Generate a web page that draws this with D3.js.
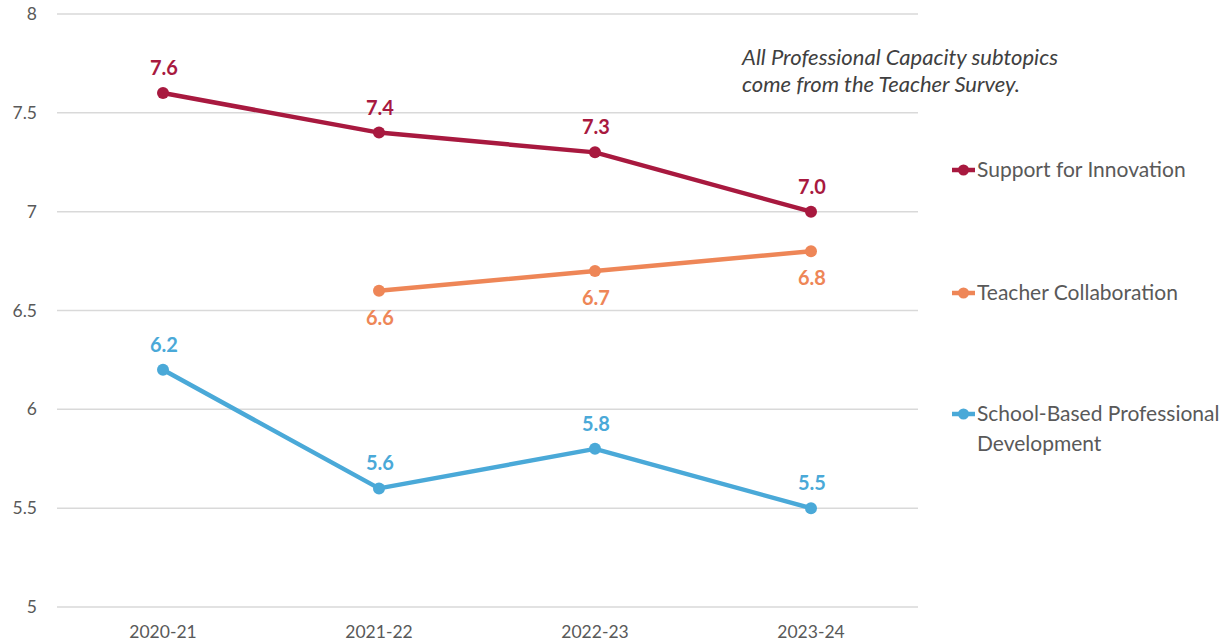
<!DOCTYPE html>
<html>
<head>
<meta charset="utf-8">
<script src="https://cdn.jsdelivr.net/npm/d3@7"></script>
<style>
  body { margin: 0; background: #fff; }
  svg text { font-family: Lato, "Open Sans", sans-serif; }
</style>
</head>
<body>
<div id="chart"></div>
<script>
// categories and series
const years = ["2020-21", "2021-22", "2022-23", "2023-24"];
const innovation = [7.6, 7.4, 7.3, 7.0];
const collaboration = [null, 6.6, 6.7, 6.8];
const schoolPD = [6.2, 5.6, 5.8, 5.5];
const yTicks = [5, 5.5, 6, 6.5, 7, 7.5, 8];

const series = [
  { name: ["Support for Innovation"], values: innovation, color: "#A8193F", labelPos: "above", legendY: 170 },
  { name: ["Teacher Collaboration"], values: collaboration, color: "#EE8657", labelPos: "below", legendY: 293 },
  { name: ["School-Based Professional", "Development"], values: schoolPD, color: "#4AA9D8", labelPos: "above", legendY: 414 }
];

const W = 1229, H = 644;
const svg = d3.select("#chart").append("svg")
    .attr("width", W)
    .attr("height", H);

const x = d3.scaleBand()
  .domain(years)
  .range([55, 919]);

const y = d3.scaleLinear()
  .domain([5, 8])
  .range([607, 14]);

// gridlines
svg.append("g")
  .selectAll("line")
  .data(yTicks)
  .join("line")
    .attr("x1", 57)
    .attr("x2", 918)
    .attr("y1", d => y(d))
    .attr("y2", d => y(d))
    .attr("stroke", "#d9d9d9")
    .attr("stroke-width", 1.5);

// y tick labels
svg.append("g")
  .selectAll("text")
  .data(yTicks)
  .join("text")
    .attr("x", 37)
    .attr("y", d => y(d))
    .attr("dy", "0.35em")
    .attr("text-anchor", "end")
    .attr("fill", "#595959")
    .attr("font-size", 17.5)
    .text(d => d);

// x labels
svg.append("g")
  .selectAll("text")
  .data(years)
  .join("text")
    .attr("x", d => x(d) + x.bandwidth() / 2)
    .attr("y", 638)
    .attr("text-anchor", "middle")
    .attr("fill", "#595959")
    .attr("font-size", 17.5)
    .text(d => d);

const cx = i => x(years[i]) + x.bandwidth() / 2;
const line = d3.line()
  .defined(d => d != null)
  .x((d, i) => cx(i))
  .y(d => y(d));

series.forEach(s => {
  const g = svg.append("g");
  g.append("path")
    .datum(s.values)
    .attr("d", line)
    .attr("fill", "none")
    .attr("stroke", s.color)
    .attr("stroke-width", 4.5)
    .attr("stroke-linejoin", "round");

  const pts = s.values.map((v, i) => ({ v, i })).filter(d => d.v != null);
  g.selectAll("circle")
    .data(pts)
    .join("circle")
      .attr("cx", d => cx(d.i))
      .attr("cy", d => y(d.v))
      .attr("r", 6)
      .attr("fill", s.color);

  g.selectAll("text.lbl")
    .data(pts)
    .join("text")
      .attr("class", "lbl")
      .attr("x", d => cx(d.i) + 1)
      .attr("y", d => y(d.v) + (s.labelPos === "above" ? -18 : 34))
      .attr("text-anchor", "middle")
      .attr("fill", s.color)
      .attr("font-size", 20)
      .attr("font-weight", "bold")
      .text(d => d.v.toFixed(1));

  // legend
  const lg = svg.append("g");
  lg.append("line")
    .attr("x1", 952).attr("x2", 975)
    .attr("y1", s.legendY).attr("y2", s.legendY)
    .attr("stroke", s.color)
    .attr("stroke-width", 4.5);
  lg.append("circle")
    .attr("cx", 963.5).attr("cy", s.legendY)
    .attr("r", 5.5)
    .attr("fill", s.color);
  lg.selectAll("text")
    .data(s.name)
    .join("text")
      .attr("x", 977)
      .attr("y", (d, i) => s.legendY + i * 30)
      .attr("dy", "0.35em")
      .attr("fill", "#595959")
      .attr("font-size", 21)
      .text(d => d);
});

// note
const note = ["All Professional Capacity subtopics", "come from the Teacher Survey."];
svg.append("g")
  .selectAll("text")
  .data(note)
  .join("text")
    .attr("x", 742)
    .attr("y", (d, i) => 65 + i * 27)
    .attr("fill", "#404040")
    .attr("font-size", 22)
    .attr("font-style", "italic")
    .text(d => d);
</script>
</body>
</html>
